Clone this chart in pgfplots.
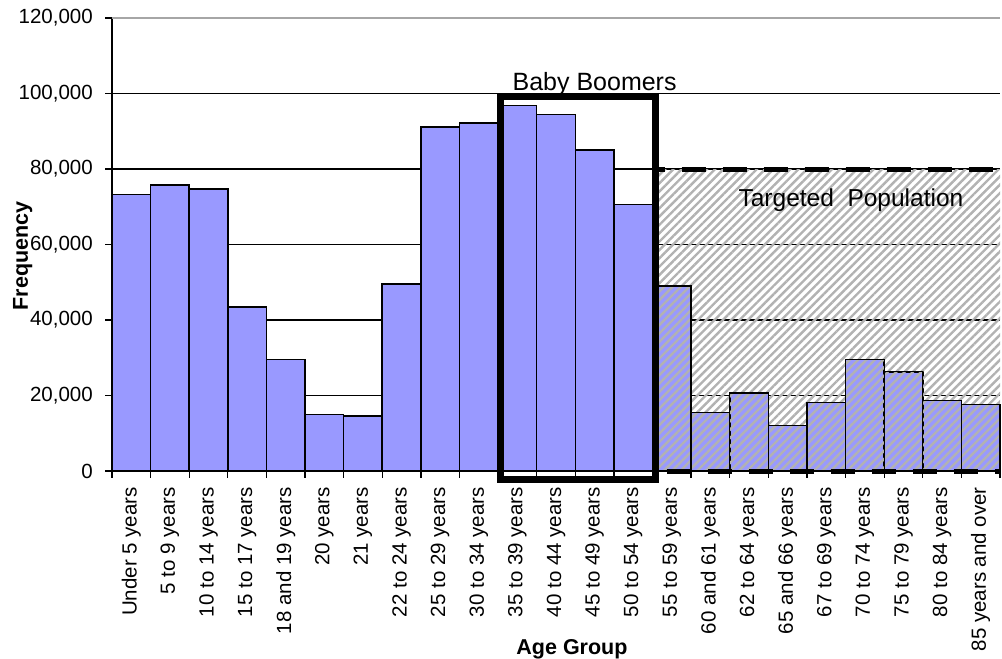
\documentclass[border=0pt]{standalone}
\usepackage{pgfplots}
\pgfplotsset{compat=1.18}
\usepackage{pgfplotstable}
\usepackage{fontspec}
\setmainfont{Liberation Sans}
\usetikzlibrary{patterns.meta}
\definecolor{barblue}{RGB}{153,153,255}

\pgfplotstableread{
idx val
0 73200
1 75800
2 74700
3 43400
4 29500
5 15000
6 14500
7 49500
8 91100
9 92200
10 96800
11 94400
12 85000
13 70600
14 49000
15 15500
16 20700
17 12100
18 18100
19 29500
20 26300
21 18700
22 17600
}\agedata

\begin{document}
\begin{tikzpicture}
\useasboundingbox (-112pt,-188pt) rectangle (890pt,471pt);
\begin{axis}[
  at={(0,0)}, anchor=south west,
  scale only axis, width=888pt, height=453pt,
  xmin=-0.5, xmax=22.5, ymin=0, ymax=120000,
  clip=false,
  axis x line*=bottom, axis y line*=left,
  axis line style={black, line width=2pt},
  xtick={0,...,22},
  xticklabels={Under 5 years,5 to 9 years,10 to 14 years,15 to 17 years,18 and 19 years,20 years,21 years,22 to 24 years,25 to 29 years,30 to 34 years,35 to 39 years,40 to 44 years,45 to 49 years,50 to 54 years,55 to 59 years,60 and 61 years,62 to 64 years,65 and 66 years,67 to 69 years,70 to 74 years,75 to 79 years,80 to 84 years,85 years and over},
  minor xtick={-0.5,0.5,...,22.5},
  ytick={0,20000,...,100000},
  minor ytick={0,20000,...,120000},
  extra y ticks={120000},
  extra y tick style={grid style={gray!70, line width=1.3pt}},
  major tick length=0pt,
  minor tick length=6.5pt,
  tick align=outside,
  tick style={black, line width=1.3pt},
  ymajorgrids,
  grid style={black, line width=1.3pt},
  scaled y ticks=false,
  /pgf/number format/.cd, fixed, 1000 sep={,}, assume math mode=true,
  /pgfplots/.cd,
  tick label style={font=\fontsize{20.5}{24}\selectfont, inner sep=0pt},
  xticklabel style={rotate=90, anchor=east},
  xticklabel shift=16pt,
  yticklabel style={anchor=east},
  yticklabel shift=19pt,
  xlabel={Age Group},
  ylabel={Frequency},
  label style={font=\bfseries\fontsize{21.5}{25}\selectfont, inner sep=0pt},
  xlabel style={at={(axis description cs:0.518,-0.404)}, anchor=base},
  ylabel style={at={(axis description cs:-0.0946,0.4746)}, anchor=base},
]
\addplot[ybar, bar width=1, fill=barblue, draw=black, line width=1.6pt] table[x=idx, y=val] {\agedata};
% targeted population hatched area
\addplot[draw=none, pattern={Lines[angle=45, distance=5.9pt, line width=2.4pt]}, pattern color=black!30]
  coordinates {(13.64,80000) (22.5,80000)} \closedcycle;
% bar outlines again on top of the hatching
\addplot[ybar, bar width=1, fill=none, draw=black, line width=1.3pt] table[x=idx, y=val] {\agedata};
\addplot[black, line width=5pt, dash pattern=on 24pt off 17pt, dash phase=17.3pt]
  coordinates {(13.64,80000) (22.5,80000)};
\addplot[black, line width=5pt, dash pattern=on 24pt off 17pt, dash phase=32.3pt]
  coordinates {(13.64,0) (22.5,0)};
% baby boomers box
\addplot[black, line width=7pt, line cap=rect, line join=miter]
  coordinates {(9.557,-2120) (9.557,99150) (13.59,99150) (13.59,-2120) (9.557,-2120)};
\node[anchor=base, inner sep=0pt, font=\fontsize{25}{30}\selectfont] at (axis cs:12,100740) {Baby Boomers};
\node[anchor=base, inner sep=0pt, font=\fontsize{24.5}{30}\selectfont] at (axis cs:18.64,70000) {Targeted\ \ Population};
\end{axis}
\end{tikzpicture}
\end{document}
